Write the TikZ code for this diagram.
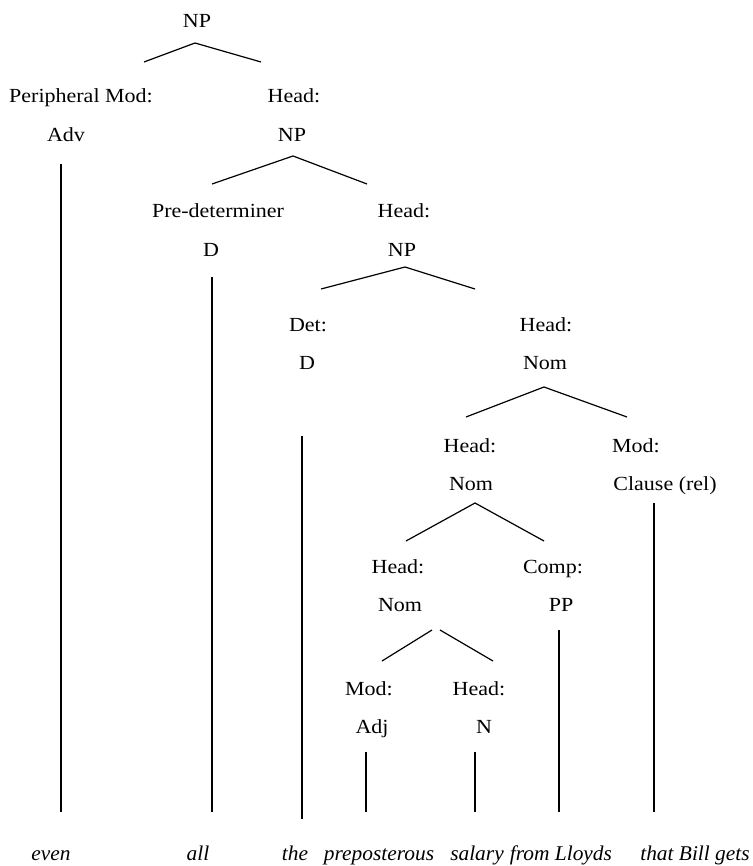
\documentclass[tikz,border=0pt]{standalone}
\usepackage{graphicx}
\usepackage{fontspec}
\setmainfont{Liberation Serif}
\newcommand\sxx[1]{\scalebox{1.1}[1]{#1}}
\newcommand\swd[1]{\scalebox{1.07}[1.05]{#1}}
\begin{document}
\begin{tikzpicture}[x=1pt,y=-1pt,
  lab/.style={inner sep=0pt, anchor=base, font=\fontsize{20}{24}\selectfont},
  word/.style={inner sep=0pt, anchor=base, font=\fontsize{20}{24}\selectfont\itshape},
  edge/.style={line width=1.2pt, line cap=butt}]
\useasboundingbox (0,0) rectangle (752,866);
% labels
\node[lab] (np1) at (197,28) {\sxx{NP}};
\node[lab] (pmod) at (81,103) {\sxx{Peripheral Mod:}};
\node[lab] (head1) at (294,103) {\sxx{Head:}};
\node[lab] (adv) at (66,142) {\sxx{Adv}};
\node[lab] (np2) at (292,142) {\sxx{NP}};
\node[lab] (predet) at (218,218) {\sxx{Pre-determiner}};
\node[lab] (head2) at (404,218) {\sxx{Head:}};
\node[lab] (d1) at (211,257) {\sxx{D}};
\node[lab] (np3) at (402,257) {\sxx{NP}};
\node[lab] (det) at (308,331) {\sxx{Det:}};
\node[lab] (head3) at (546,331) {\sxx{Head:}};
\node[lab] (d2) at (307,369) {\sxx{D}};
\node[lab] (nom1) at (545,369) {\sxx{Nom}};
\node[lab] (head4) at (470,452) {\sxx{Head:}};
\node[lab] (mod1) at (636,452) {\sxx{Mod:}};
\node[lab] (nom2) at (471,490) {\sxx{Nom}};
\node[lab] (clause) at (665,490) {\sxx{Clause (rel)}};
\node[lab] (head5) at (398,573) {\sxx{Head:}};
\node[lab] (comp) at (553,573) {\sxx{Comp:}};
\node[lab] (nom3) at (400,611) {\sxx{Nom}};
\node[lab] (pp) at (561,611) {\sxx{PP}};
\node[lab] (mod2) at (369,695) {\sxx{Mod:}};
\node[lab] (head6) at (479,695) {\sxx{Head:}};
\node[lab] (adj) at (372,733) {\sxx{Adj}};
\node[lab] (n) at (484,733) {\sxx{N}};
% words
\node[word] (w1) at (51,860) {\swd{even}};
\node[word] (w2) at (198,860) {\swd{all}};
\node[word] (w3) at (295,860) {\swd{the}};
\node[word] (w4) at (379,860) {\swd{preposterous}};
\node[word] (w5) at (477,860) {\swd{salary}};
\node[word] (w6) at (561,860) {\swd{from Lloyds}};
\node[word] (w7) at (695,860) {\swd{that Bill gets}};
% branch points
\coordinate (np1p) at (195,43);
\coordinate (np1l) at (144,62);
\coordinate (np1r) at (261,62);
\coordinate (np2p) at (293,156);
\coordinate (np2l) at (212,184);
\coordinate (np2r) at (367,184);
\coordinate (np3p) at (405,267);
\coordinate (np3l) at (321,289);
\coordinate (np3r) at (475,289);
\coordinate (nom1p) at (544,387);
\coordinate (nom1l) at (466,417);
\coordinate (nom1r) at (627,417);
\coordinate (nom2p) at (475,503);
\coordinate (nom2l) at (406,541);
\coordinate (nom2r) at (544,541);
\coordinate (nom3pl) at (432,630);
\coordinate (nom3pr) at (440,630);
\coordinate (nom3l) at (382,661);
\coordinate (nom3r) at (493,661);
% vertical line ends
\coordinate (advt) at (61,164);
\coordinate (advb) at (61,812);
\coordinate (d1t) at (212,277);
\coordinate (d1b) at (212,812);
\coordinate (d2t) at (302,436);
\coordinate (d2b) at (302,819);
\coordinate (clt) at (654,503);
\coordinate (clb) at (654,812);
\coordinate (ppt) at (559,630);
\coordinate (ppb) at (559,812);
\coordinate (adjt) at (366,752);
\coordinate (adjb) at (366,812);
\coordinate (nt) at (475,752);
\coordinate (nb) at (475,812);
% connectors
\draw[edge] (np1l) -- (np1p) -- (np1r);
\draw[edge] (np2l) -- (np2p) -- (np2r);
\draw[edge] (np3l) -- (np3p) -- (np3r);
\draw[edge] (nom1l) -- (nom1p) -- (nom1r);
\draw[edge] (nom2l) -- (nom2p) -- (nom2r);
\draw[edge] (nom3pl) -- (nom3l);
\draw[edge] (nom3pr) -- (nom3r);
\draw[edge] (advt) -- (advb);
\draw[edge] (d1t) -- (d1b);
\draw[edge] (d2t) -- (d2b);
\draw[edge] (clt) -- (clb);
\draw[edge] (ppt) -- (ppb);
\draw[edge] (adjt) -- (adjb);
\draw[edge] (nt) -- (nb);
\end{tikzpicture}
\end{document}
